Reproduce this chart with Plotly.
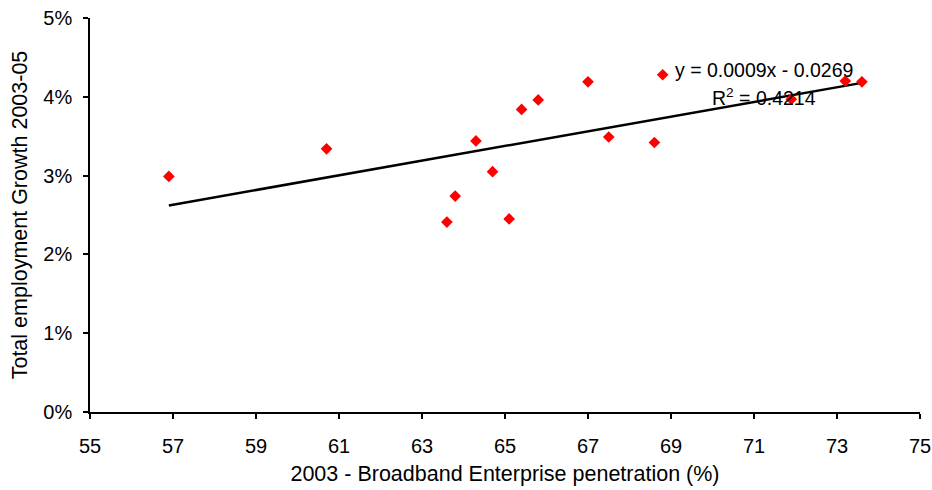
import numpy as np
import plotly.graph_objects as go

# 2003 broadband enterprise penetration (%)
penetration = [56.9, 60.7, 63.6, 63.8, 64.3, 64.7, 65.1, 65.4, 65.8, 67.0, 67.5, 68.6, 68.8, 71.9, 73.2, 73.6]
# Total employment growth 2003-05 (fraction)
growth = [0.0299, 0.0334, 0.0241, 0.0274, 0.0344, 0.0305, 0.0245, 0.0384, 0.0396, 0.0419, 0.0349, 0.0342, 0.0428, 0.0397, 0.0420, 0.0419]

x_ticks = [55, 57, 59, 61, 63, 65, 67, 69, 71, 73, 75]
y_ticks = [0, 0.01, 0.02, 0.03, 0.04, 0.05]

eq_text = "y = 0.0009x - 0.0269"
r2_text = "R<sup>2</sup> = 0.4214"

slope, intercept = np.polyfit(penetration, growth, 1)
trend_x = [min(penetration), max(penetration)]
trend_y = [slope * v + intercept for v in trend_x]

FONT = "Liberation Sans, Arial, sans-serif"

fig = go.Figure()
fig.add_trace(go.Scatter(
    x=trend_x, y=trend_y, mode="lines",
    line=dict(color="black", width=2.5), hoverinfo="skip", showlegend=False))
fig.add_trace(go.Scatter(
    x=penetration, y=growth, mode="markers",
    marker=dict(symbol="diamond", color="#ff0000", size=9, line=dict(width=0)),
    showlegend=False))

fig.add_annotation(x=69.05, y=0.0434, text=eq_text, showarrow=False,
                   xanchor="left", yanchor="middle",
                   font=dict(family=FONT, size=19.5, color="black"))
fig.add_annotation(x=69.95, y=0.0400, text=r2_text, showarrow=False,
                   xanchor="left", yanchor="middle",
                   font=dict(family=FONT, size=19.5, color="black"))

tick_font = dict(family=FONT, size=20, color="black")
fig.update_layout(
    width=932, height=490,
    margin=dict(l=90, r=12, t=18, b=78),
    paper_bgcolor="white", plot_bgcolor="white",
    font=tick_font,
    xaxis=dict(
        range=[55, 75], tickvals=x_ticks, ticktext=[str(v) for v in x_ticks],
        showgrid=False, zeroline=False, showline=True, linecolor="black", linewidth=1.5,
        ticks="outside", ticklen=5, tickwidth=1.5, tickcolor="black",
        tickfont=tick_font, ticklabelstandoff=10, automargin=False,
        ticklabeloverflow="allow",
        title=dict(text="2003 - Broadband Enterprise penetration (%)",
                   font=dict(family=FONT, size=21.5, color="black"),
                   standoff=10),
    ),
    yaxis=dict(
        range=[0, 0.05], tickvals=y_ticks, tickformat=".0%",
        showgrid=False, zeroline=False, showline=True, linecolor="black", linewidth=1.5,
        ticks="outside", ticklen=5, tickwidth=1.5, tickcolor="black",
        tickfont=tick_font, ticklabelstandoff=7, automargin=False,
        ticklabeloverflow="allow",
        title=dict(text="Total employment Growth 2003-05",
                   font=dict(family=FONT, size=21.5, color="black"),
                   standoff=10),
    ),
)

fig.write_html("out.html",
               config={"displayModeBar": False},
               post_script="document.body.style.margin='0px';document.body.style.overflow='hidden';")
